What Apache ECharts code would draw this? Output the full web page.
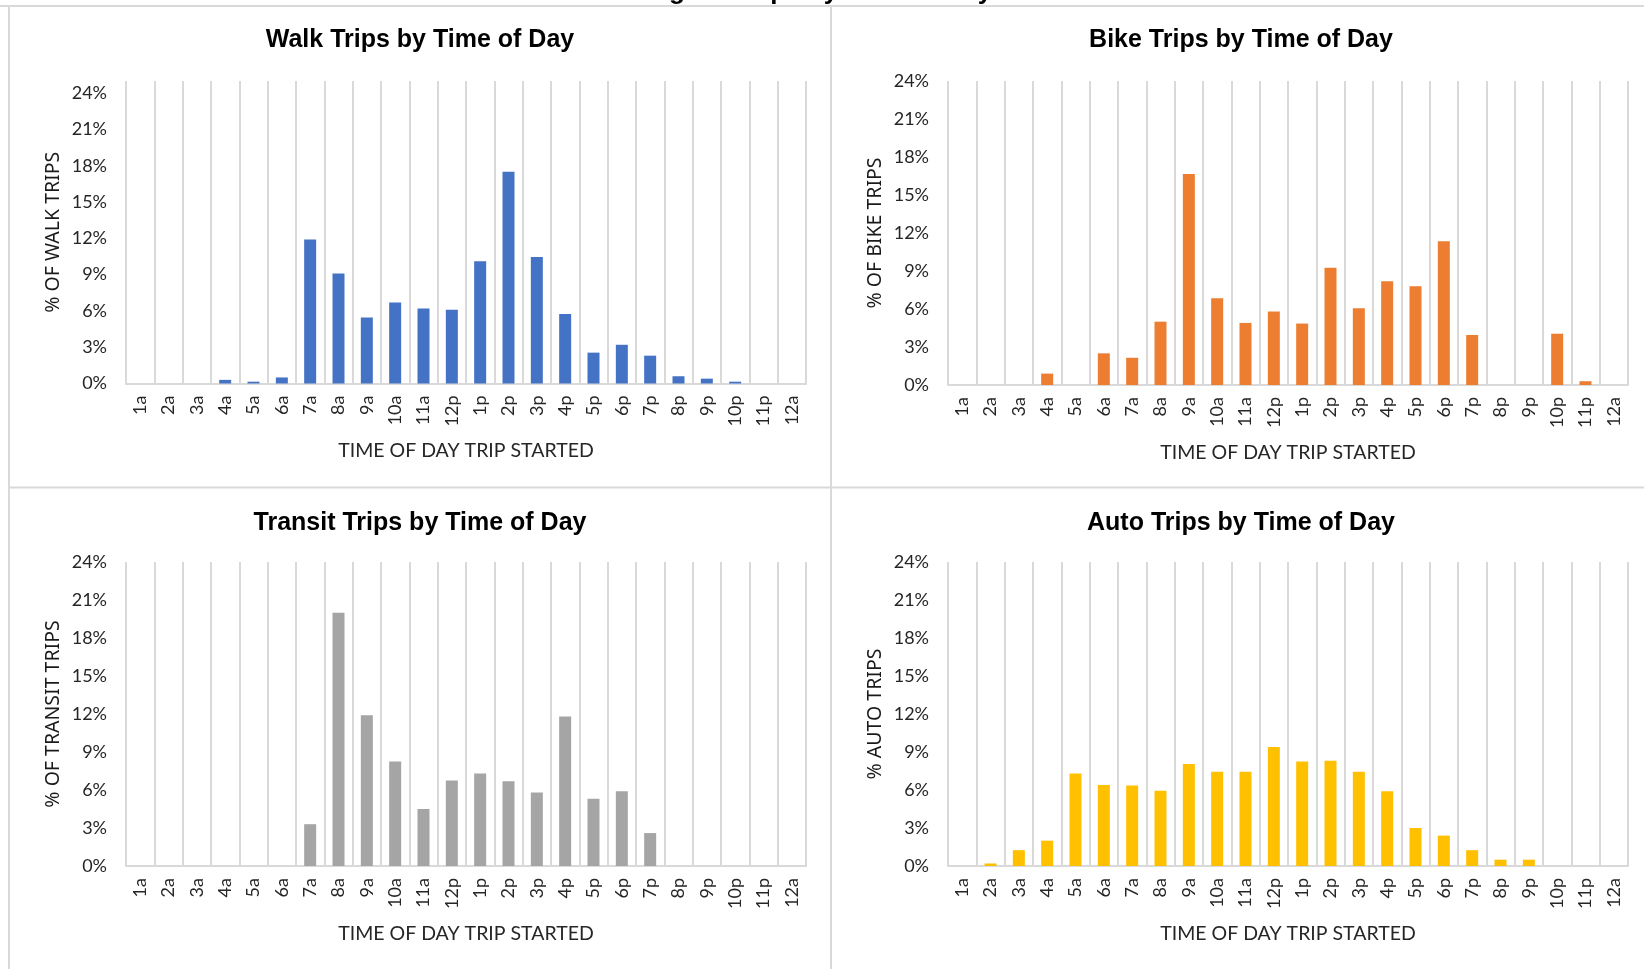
<!DOCTYPE html>
<html>
<head>
<meta charset="utf-8">
<title>Trips by Time of Day</title>
<script src="https://cdn.jsdelivr.net/npm/echarts@6/dist/echarts.min.js"></script>
<style>
  html, body { margin: 0; padding: 0; background: #fff; }
  #chart { width: 1644px; height: 969px; }
</style>
</head>
<body>
<div id="chart"></div>
<script>
// hour the trip started
const hours = ['1a', '2a', '3a', '4a', '5a', '6a', '7a', '8a', '9a', '10a', '11a', '12p',
  '1p', '2p', '3p', '4p', '5p', '6p', '7p', '8p', '9p', '10p', '11p', '12a'];

// % of trips per mode
const walkPct = [0, 0, 0, 0.3, 0.15, 0.5, 11.9, 9.1, 5.45, 6.7, 6.2, 6.1,
  10.1, 17.5, 10.45, 5.75, 2.55, 3.2, 2.3, 0.6, 0.4, 0.15, 0, 0];
const bikePct = [0, 0, 0, 0.9, 0, 2.5, 2.15, 5.0, 16.65, 6.85, 4.9, 5.8,
  4.85, 9.25, 6.05, 8.2, 7.8, 11.35, 3.95, 0, 0, 4.05, 0.3, 0];
const transitPct = [0, 0, 0, 0, 0, 0, 3.3, 20.0, 11.9, 8.25, 4.5, 6.75,
  7.3, 6.7, 5.8, 11.8, 5.3, 5.9, 2.6, 0, 0, 0, 0, 0];
const autoPct = [0, 0.2, 1.25, 2.0, 7.3, 6.4, 6.35, 5.95, 8.05, 7.45, 7.45, 9.4,
  8.25, 8.3, 7.45, 5.9, 3.0, 2.4, 1.25, 0.5, 0.5, 0, 0, 0];

const yTickStep = 3;

const panels = [
  { title: 'Walk Trips by Time of Day', yName: '% OF WALK TRIPS', data: walkPct, color: '#4472C4',
    left: 126, top: 81, height: 302.5, yMax: 25, cx: 420, cy: 40 },
  { title: 'Bike Trips by Time of Day', yName: '% OF BIKE TRIPS', data: bikePct, color: '#ED7D31',
    left: 948, top: 81, height: 304, yMax: 24, cx: 1241, cy: 40.5 },
  { title: 'Transit Trips by Time of Day', yName: '% OF TRANSIT TRIPS', data: transitPct, color: '#A5A5A5',
    left: 126, top: 562, height: 304, yMax: 24, cx: 420, cy: 523 },
  { title: 'Auto Trips by Time of Day', yName: '% AUTO TRIPS', data: autoPct, color: '#FFC000',
    left: 948, top: 562, height: 304, yMax: 24, cx: 1241, cy: 523 }
];

const frameColor = '#d9d9d9';
const line = (x1, y1, x2, y2) => ({
  type: 'line',
  shape: { x1, y1, x2, y2 },
  style: { stroke: frameColor, lineWidth: 2 },
  silent: true
});

const graphics = [
  // page title, mostly cut off above the picture
  {
    type: 'text', x: 840, y: -8,
    style: {
      text: 'Percentage of Trips by Time of Day and Mode',
      font: 'bold 26px "Liberation Sans", Arial, sans-serif',
      fill: '#000', textAlign: 'center', textVerticalAlign: 'middle'
    }
  },
  line(0, 6, 1644, 6),
  line(9, 6, 9, 969),
  line(831, 6, 831, 969),
  line(9, 487.5, 1644, 487.5)
];
panels.forEach(p => {
  graphics.push({
    type: 'text', x: p.cx, y: p.cy,
    style: {
      text: p.title,
      font: 'bold 25px "Liberation Sans", Arial, sans-serif',
      fill: '#000', textAlign: 'center', textVerticalAlign: 'middle'
    }
  });
});

const option = {
  animation: false,
  backgroundColor: '#fff',
  textStyle: { fontFamily: 'Lato' },
  graphic: graphics,
  grid: panels.map(p => ({ left: p.left, top: p.top, width: 680, height: p.height })),
  xAxis: panels.map((p, i) => ({
    type: 'category',
    gridIndex: i,
    data: hours,
    name: 'TIME OF DAY TRIP STARTED',
    nameLocation: 'middle',
    nameGap: 57.5,
    nameTextStyle: { fontFamily: 'Lato', fontSize: 19.5, color: '#262626' },
    axisTick: { show: false },
    axisLine: { lineStyle: { color: frameColor, width: 2 } },
    axisLabel: { rotate: 90, interval: 0, margin: 12, fontFamily: 'Lato', fontSize: 18, color: '#262626' },
    splitLine: { show: true, interval: 0, lineStyle: { color: frameColor, width: 2 } }
  })),
  yAxis: panels.map((p, i) => ({
    type: 'value',
    gridIndex: i,
    min: 0,
    max: p.yMax,
    interval: yTickStep,
    name: p.yName,
    nameLocation: 'middle',
    nameGap: 63,
    nameTextStyle: { fontFamily: 'Noto Sans', fontSize: 19.5, color: '#1a1a1a' },
    axisLine: { show: false },
    axisTick: { show: false },
    splitLine: { show: false },
    axisLabel: {
      margin: 19, fontFamily: 'Lato', fontSize: 18, color: '#262626',
      formatter: v => (Math.round(v) % yTickStep === 0 ? Math.round(v) + '%' : '')
    }
  })),
  series: panels.map((p, i) => ({
    type: 'bar',
    xAxisIndex: i,
    yAxisIndex: i,
    data: p.data,
    barWidth: 12,
    itemStyle: { color: p.color }
  }))
};

const myChart = echarts.init(document.getElementById('chart'));
myChart.setOption(option);
</script>
</body>
</html>
